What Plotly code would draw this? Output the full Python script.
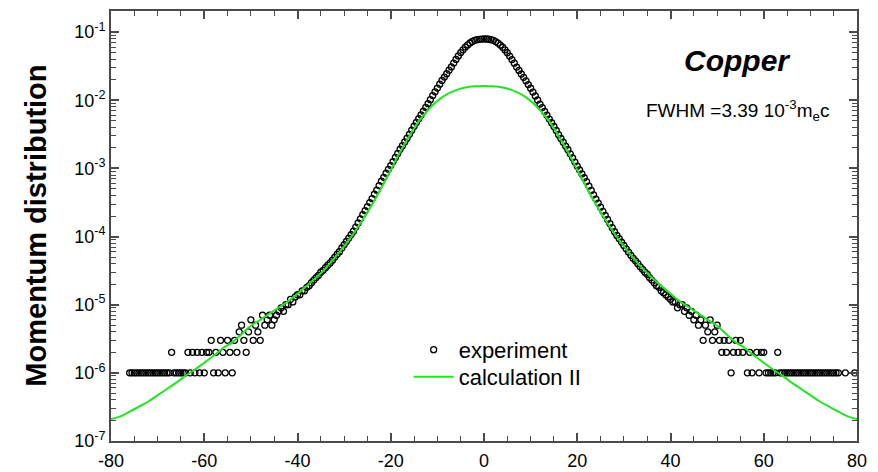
import plotly.graph_objects as go

# ---------------- data ----------------
# experiment: sampled every 0.5 from -76 to 80
exp_x_start = -76.0
exp_x_step = 0.5

# left tail, -76 .. -42.5 (units of 1e-6)
exp_left_tail = [1, 1, 1, 1, 1, 1, 1, 1, 1, 1, 1, 1, 1, 1, 1, 1, 1, 1,
                 2, 1, 1, 1, 1, 1, 1, 2, 1, 2, 1, 2, 1, 2, 1, 2, 2, 3, 1, 2,
                 1, 3, 2, 1, 3, 2, 1, 3, 2, 4, 5, 3, 2, 4, 6, 3, 5, 4, 3, 7,
                 5, 6, 7, 5, 6, 7, 8, 9, 8, 10]

# core, -42 .. 42
exp_core = [
    1.0e-5, 1.2e-5, 1.1e-5, 1.3e-5, 1.4e-5, 1.4e-5, 1.6e-5, 1.6e-5, 1.8e-5, 1.9e-5,
    2.1e-5, 2.3e-5, 2.5e-5, 2.7e-5, 3.0e-5, 3.2e-5, 3.5e-5, 3.8e-5, 4.1e-5, 4.5e-5,
    5.0e-5, 5.5e-5, 6.0e-5, 6.8e-5, 7.6e-5, 8.5e-5, 9.5e-5, 1.07e-4, 1.2e-4, 1.38e-4,
    1.58e-4, 1.82e-4, 2.1e-4, 2.4e-4, 2.75e-4, 3.15e-4, 3.6e-4, 4.2e-4, 4.8e-4, 5.6e-4,
    6.5e-4, 7.4e-4, 8.5e-4, 9.7e-4, 1.10e-3, 1.26e-3, 1.45e-3, 1.66e-3, 1.91e-3, 2.16e-3,
    2.45e-3, 2.78e-3, 3.16e-3, 3.63e-3, 4.17e-3, 4.73e-3, 5.37e-3, 6.1e-3, 6.92e-3, 7.85e-3,
    8.91e-3, 1.02e-2, 1.17e-2, 1.33e-2, 1.51e-2, 1.72e-2, 1.95e-2, 2.19e-2, 2.45e-2, 2.76e-2,
    3.09e-2, 3.52e-2, 3.98e-2, 4.47e-2, 5.01e-2, 5.50e-2, 6.03e-2, 6.49e-2, 6.92e-2, 7.28e-2,
    7.59e-2, 7.76e-2, 7.85e-2, 7.92e-2, 7.94e-2,
    7.93e-2, 7.86e-2, 7.74e-2, 7.57e-2, 7.26e-2, 6.90e-2, 6.46e-2, 6.00e-2, 5.48e-2, 4.98e-2,
    4.45e-2, 3.96e-2, 3.50e-2, 3.07e-2, 2.74e-2, 2.43e-2, 2.17e-2, 1.93e-2, 1.70e-2, 1.50e-2,
    1.32e-2, 1.16e-2, 1.01e-2, 8.8e-3, 7.8e-3, 6.85e-3, 6.05e-3, 5.3e-3, 4.68e-3, 4.12e-3,
    3.6e-3, 3.13e-3, 2.75e-3, 2.42e-3, 2.13e-3, 1.88e-3, 1.64e-3, 1.43e-3, 1.24e-3, 1.08e-3,
    9.5e-4, 8.3e-4, 7.3e-4, 6.4e-4, 5.5e-4, 4.75e-4, 4.1e-4, 3.55e-4, 3.1e-4, 2.7e-4,
    2.35e-4, 2.05e-4, 1.78e-4, 1.55e-4, 1.35e-4, 1.18e-4, 1.04e-4, 9.3e-5, 8.3e-5, 7.4e-5,
    6.6e-5, 5.9e-5, 5.3e-5, 4.8e-5, 4.4e-5, 4.0e-5, 3.6e-5, 3.3e-5, 3.0e-5, 2.8e-5,
    2.5e-5, 2.3e-5, 2.1e-5, 1.9e-5, 1.8e-5, 1.6e-5, 1.5e-5, 1.4e-5, 1.3e-5, 1.2e-5,
    1.1e-5, 1.1e-5, 9e-6, 1.0e-5,
]

# right tail, 42.5 .. 80 (units of 1e-6, None = empty channel)
exp_right_tail = [10, 8, 9, 7, 8, 6, 7, 5, 6, 3, 5, 4, 6, 3, 4, 5, 3, 2, 3, 2,
                  3, 1, 2, 3, 2, 3, 2, None, 1, 2, 1, None, 2, 1, 2, 2, 1, 1, 1, 1,
                  1, 2, 1, 1, 1, 1, 1, 1, 1, 1, 1, 1, 1, 1, 1, 1, 1, 1, 1, 1,
                  1, 1, 1, 1, 1, 1, 1, 1, None, None, 1, None, None, None, 1, None]

# calculation II: every 2 units from -80 to 80
calc_x = list(range(-80, 81, 2))
calc_y = [
    2.1e-7, 2.3e-7, 2.7e-7, 3.2e-7, 3.8e-7, 4.7e-7, 5.8e-7, 7.2e-7, 9.1e-7, 1.12e-6,
    1.41e-6, 1.78e-6, 2.3e-6, 2.8e-6, 3.7e-6, 4.9e-6, 6.0e-6, 7.4e-6, 9.1e-6, 1.12e-5,
    1.45e-5, 1.9e-5, 2.5e-5, 3.4e-5, 4.9e-5, 7.2e-5, 1.10e-4, 1.78e-4, 2.95e-4, 5.2e-4,
    9.5e-4, 1.74e-3, 3.0e-3, 4.9e-3, 7.2e-3, 9.8e-3, 1.22e-2, 1.41e-2, 1.54e-2, 1.60e-2,
    1.62e-2,
    1.60e-2, 1.54e-2, 1.41e-2, 1.22e-2, 9.8e-3, 7.2e-3, 4.9e-3, 3.0e-3, 1.74e-3, 9.5e-4,
    5.2e-4, 2.95e-4, 1.78e-4, 1.10e-4, 7.2e-5, 4.9e-5, 3.4e-5, 2.5e-5, 1.9e-5, 1.45e-5,
    1.12e-5, 9.1e-6, 7.4e-6, 6.0e-6, 4.9e-6, 3.7e-6, 2.8e-6, 2.3e-6, 1.78e-6, 1.41e-6,
    1.12e-6, 9.1e-7, 7.2e-7, 5.8e-7, 4.7e-7, 3.8e-7, 3.2e-7, 2.7e-7, 2.3e-7, 2.1e-7,
]

y_tick_vals = [1e-7, 1e-6, 1e-5, 1e-4, 1e-3, 1e-2, 1e-1]
y_tick_text = ["10<sup>-7</sup>", "10<sup>-6</sup>", "10<sup>-5</sup>", "10<sup>-4</sup>",
               "10<sup>-3</sup>", "10<sup>-2</sup>", "10<sup>-1</sup>"]
x_tick_vals = [-80, -60, -40, -20, 0, 20, 40, 60, 80]
x_tick_text = ["-80", "-60", "-40", "-20", "0", "20", "40", "60", "80"]

# ---------------- assemble ----------------
exp_y = ([None if v is None else v * 1e-6 for v in exp_left_tail]
         + exp_core
         + [None if v is None else v * 1e-6 for v in exp_right_tail])
exp_x = [exp_x_start + exp_x_step * i for i in range(len(exp_y))]

# minor tick positions (axis decoration)
x_minor = [v for v in range(-80, 81, 5) if v % 20 != 0]
y_minor = [m * 10.0 ** e for e in range(-7, 0) for m in range(2, 10)]

FONT = "Liberation Sans, Arial, Helvetica, sans-serif"
AXC = "#4a4a4a"
X_RANGE = [-80, 80]
Y_RANGE = [-7, -0.69]

fig = go.Figure()
fig.add_trace(go.Scatter(
    x=exp_x, y=exp_y, mode="markers", name="experiment", legend="legend",
    marker=dict(symbol="circle-open", size=6, color="black", line=dict(width=1.3, color="black")),
))
fig.add_trace(go.Scatter(
    x=calc_x, y=calc_y, mode="lines", name="calculation II", legend="legend2",
    line=dict(color="#22e622", width=2, shape="spline", smoothing=1.0),
))

LEG = dict(xanchor="left", yanchor="middle", bgcolor="rgba(0,0,0,0)",
           font=dict(size=22, family=FONT), itemwidth=40)

fig.update_layout(
    width=878, height=472,
    margin=dict(l=111, r=21, t=11, b=31),
    paper_bgcolor="white", plot_bgcolor="white",
    font=dict(family=FONT, size=18, color="black"),
    showlegend=True,
    legend=dict(x=0.399, y=0.212, **LEG),
    legend2=dict(x=0.399, y=0.149, **LEG),
    xaxis=dict(
        range=X_RANGE, tickvals=x_tick_vals, ticktext=x_tick_text,
        ticks="inside", ticklen=8, tickwidth=1.5, tickcolor=AXC,
        showline=True, linecolor=AXC, linewidth=2, mirror="ticks",
        showgrid=False, zeroline=False, tickfont=dict(size=18), ticklabelstandoff=2,
        automargin=False,
        minor=dict(tickmode="array", tickvals=x_minor, ticks="inside", ticklen=5,
                   tickwidth=1.2, tickcolor=AXC, showgrid=False),
    ),
    yaxis=dict(
        type="log", range=Y_RANGE, tickvals=y_tick_vals, ticktext=y_tick_text,
        ticks="inside", ticklen=8, tickwidth=1.5, tickcolor=AXC,
        showline=True, linecolor=AXC, linewidth=2, mirror="ticks",
        showgrid=False, zeroline=False, tickfont=dict(size=18), automargin=False,
        minor=dict(tickmode="array", tickvals=y_minor, ticks="inside", ticklen=5,
                   tickwidth=1.2, tickcolor=AXC, showgrid=False),
    ),
)

fig.add_annotation(
    text="<b>Momentum distribution</b>", textangle=-90, xref="paper", yref="paper",
    x=-0.101, y=0.5, xanchor="center", yanchor="middle", showarrow=False,
    font=dict(size=29, family=FONT),
)
fig.add_annotation(
    text="<b><i>Copper</i></b>", xref="paper", yref="paper", x=0.84, y=0.886,
    xanchor="center", yanchor="middle", showarrow=False, font=dict(size=30, family=FONT),
)
fig.add_annotation(
    text="FWHM =3.39 10<sup>-3</sup>m<sub>e</sub>c", xref="paper", yref="paper",
    x=0.84, y=0.768, xanchor="center", yanchor="middle", showarrow=False,
    font=dict(size=19, family=FONT),
)

fig.write_html("out.html")
